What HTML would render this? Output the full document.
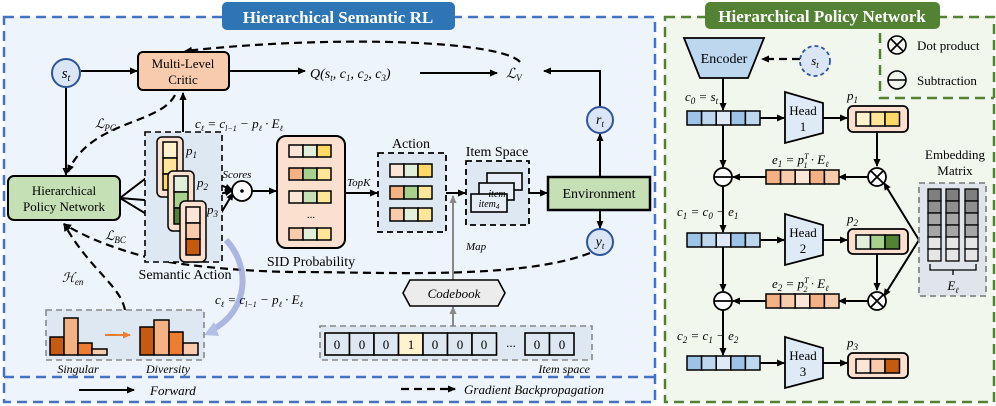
<!DOCTYPE html>
<html><head><meta charset="utf-8"><style>body{margin:0;background:#fff}svg{display:block}text{font-family:"Liberation Serif","DejaVu Serif",serif}</style></head><body>
<svg width="996" height="406" viewBox="0 0 996 406" xmlns="http://www.w3.org/2000/svg">
<defs>
<marker id="a" markerWidth="8" markerHeight="8" refX="7" refY="4" orient="auto" markerUnits="userSpaceOnUse"><path d="M0,0.5 L8,4 L0,7.5 z" fill="#000"/></marker>
<marker id="g" markerWidth="8" markerHeight="8" refX="7" refY="4" orient="auto" markerUnits="userSpaceOnUse"><path d="M0,0.5 L8,4 L0,7.5 z" fill="#888"/></marker>
<marker id="o" markerWidth="8" markerHeight="8" refX="7" refY="4" orient="auto" markerUnits="userSpaceOnUse"><path d="M0,0.5 L8,4 L0,7.5 z" fill="#ed7d31"/></marker>
</defs>
<rect x="4" y="17" width="651" height="385" fill="#eef4fb" stroke="#4472c4" stroke-width="2.5" stroke-dasharray="10,6"/>
<line x1="4" y1="377" x2="655" y2="377" stroke="#4472c4" stroke-width="2.5" stroke-dasharray="10,6"/>
<rect x="222" y="2" width="233" height="28" rx="5" fill="#2e75b6"/>
<text x="338" y="23" font-size="17" font-weight="bold" fill="#fff" text-anchor="middle">Hierarchical Semantic RL</text>
<rect x="665" y="17" width="329" height="385" fill="#f2f7ee" stroke="#548235" stroke-width="2.5" stroke-dasharray="10,6"/>
<path d="M880,17 V98 H994" fill="none" stroke="#548235" stroke-width="2.5" stroke-dasharray="10,6"/>
<rect x="705" y="2" width="235" height="27" rx="5" fill="#548235"/>
<text x="822" y="22" font-size="17" font-weight="bold" fill="#fff" text-anchor="middle">Hierarchical Policy Network</text>

<g stroke="#000" stroke-width="2" fill="none">
<line x1="81" y1="71" x2="137" y2="71" marker-end="url(#a)"/>
<line x1="229" y1="71" x2="305" y2="71" marker-end="url(#a)"/>
<line x1="420" y1="73" x2="497" y2="73" marker-end="url(#a)"/>
<path d="M600,107 V71 H544" marker-end="url(#a)"/>
<line x1="66" y1="87" x2="66" y2="175" marker-end="url(#a)"/>
<path d="M183,133 V93" marker-end="url(#a)"/>
<line x1="120" y1="198" x2="158" y2="169" marker-end="url(#a)"/>
<line x1="120" y1="198" x2="169" y2="202" marker-end="url(#a)"/>
<line x1="120" y1="198" x2="171" y2="229" marker-end="url(#a)"/>
<line x1="182" y1="168" x2="232" y2="190" marker-end="url(#a)"/>
<line x1="194" y1="200" x2="232" y2="191" marker-end="url(#a)"/>
<line x1="205" y1="240" x2="233" y2="193" marker-end="url(#a)"/>
<line x1="252" y1="191" x2="276" y2="191" marker-end="url(#a)"/>
<line x1="345" y1="193" x2="377" y2="193" marker-end="url(#a)"/>
<line x1="446" y1="193" x2="465" y2="193" marker-end="url(#a)"/>
<line x1="529" y1="193" x2="547" y2="193" marker-end="url(#a)"/>
<line x1="600" y1="177" x2="600" y2="134" marker-end="url(#a)"/>
<line x1="600" y1="210" x2="600" y2="228" marker-end="url(#a)"/>
</g>
<g stroke="#000" stroke-width="2.2" fill="none" stroke-dasharray="8,5">
<path d="M520,62 C500,40 330,35 185,51" marker-end="url(#a)"/>
<path d="M175,95 C160,125 90,120 68,172" marker-end="url(#a)"/>
<path d="M590,253 C520,280 380,272 300,272 C240,272 170,264 150,258 C120,250 90,240 64,224" marker-end="url(#a)"/>
<path d="M125,310 C120,285 90,270 64,224" marker-end="url(#a)"/>
<line x1="800" y1="59" x2="762" y2="59" marker-end="url(#a)"/>
</g>
<line x1="453" y1="280" x2="453" y2="196" stroke="#888" stroke-width="2" marker-end="url(#g)"/>
<line x1="453" y1="326" x2="453" y2="307" stroke="#888" stroke-width="2" marker-end="url(#g)"/>
<path d="M226,240 C250,265 250,310 212,330" stroke="#9aa8dc" stroke-width="6" fill="none" opacity="0.8"/>
<path d="M204,335 L214,322 L219,336 z" fill="#b3bfe6"/>

<circle cx="66" cy="73" r="14" fill="#dae6f5" stroke="#2f5597" stroke-width="2"/>
<text x="66" y="78" font-size="15" font-style="italic" text-anchor="middle">s<tspan font-size="10" dy="3">t</tspan></text>
<rect x="138" y="52" width="91" height="38" rx="5" fill="#f8cbad" stroke="#000" stroke-width="2"/>
<text x="183" y="68" font-size="13" text-anchor="middle">Multi-Level</text>
<text x="183" y="84" font-size="13" text-anchor="middle">Critic</text>
<text x="310" y="78" font-size="14" font-style="italic">Q(s<tspan font-size="9" dy="3">t</tspan><tspan dy="-3">, c</tspan><tspan font-size="9" dy="3">1</tspan><tspan dy="-3">, c</tspan><tspan font-size="9" dy="3">2</tspan><tspan dy="-3">, c</tspan><tspan font-size="9" dy="3">3</tspan><tspan dy="-3">)</tspan></text>
<text x="506" y="78" font-size="14" font-style="italic">ℒ<tspan font-size="9" dy="3">V</tspan></text>
<text x="95" y="128" font-size="13" font-style="italic">ℒ<tspan font-size="9" dy="3">PG</tspan></text>
<text x="195" y="128" font-size="13" font-style="italic">c<tspan font-size="8" dy="3">ℓ</tspan><tspan dy="-3"> = c</tspan><tspan font-size="8" dy="3">l−1</tspan><tspan dy="-3"> − p</tspan><tspan font-size="8" dy="3">ℓ</tspan><tspan dy="-3"> · E</tspan><tspan font-size="8" dy="3">ℓ</tspan></text>
<rect x="8" y="176" width="112" height="44" rx="6" fill="#c5e0b4" stroke="#000" stroke-width="2"/>
<text x="64" y="195" font-size="13" text-anchor="middle">Hierarchical</text>
<text x="64" y="211" font-size="13" text-anchor="middle">Policy Network</text>
<text x="105" y="240" font-size="13" font-style="italic">ℒ<tspan font-size="9" dy="3">BC</tspan></text>
<text x="62" y="282" font-size="13" font-style="italic">ℋ<tspan font-size="9" dy="3">en</tspan></text>

<rect x="145" y="132" width="77" height="130" fill="#dde8f3" stroke="#000" stroke-width="1.6" stroke-dasharray="6,4"/>
<text x="185" y="279" font-size="14" text-anchor="middle">Semantic Action</text>
<g stroke="#000" stroke-width="1.5">
<rect x="157" y="137" width="26" height="60" rx="5" fill="#fbe0d0"/>
<rect x="163" y="142" width="14" height="16" fill="#fff2cc"/><rect x="163" y="158" width="14" height="16" fill="#ffe699"/><rect x="163" y="174" width="14" height="16" fill="#ffd966"/>
<rect x="168" y="171" width="26" height="60" rx="5" fill="#fbe0d0"/>
<rect x="174" y="176" width="14" height="16" fill="#e2efda"/><rect x="174" y="192" width="14" height="16" fill="#a9d18e"/><rect x="174" y="208" width="14" height="16" fill="#548235"/>
<rect x="180" y="201" width="26" height="61" rx="5" fill="#fbe0d0"/>
<rect x="186" y="207" width="14" height="16" fill="#fbe5d6"/><rect x="186" y="223" width="14" height="16" fill="#f8cbad"/><rect x="186" y="239" width="14" height="16" fill="#c55a11"/>
</g>
<text x="186" y="155" font-size="13" font-style="italic">p<tspan font-size="9" dy="3">1</tspan></text>
<text x="197" y="187" font-size="13" font-style="italic">p<tspan font-size="9" dy="3">2</tspan></text>
<text x="207" y="214" font-size="13" font-style="italic">p<tspan font-size="9" dy="3">3</tspan></text>
<text x="237" y="178" font-size="11" font-style="italic" text-anchor="middle">Scores</text>
<circle cx="242" cy="191" r="10" fill="#fff" stroke="#000" stroke-width="1.8"/>
<circle cx="242" cy="191" r="1.8" fill="#000"/>

<rect x="277" y="136" width="68" height="112" rx="9" fill="#fbe0d0" stroke="#000" stroke-width="2"/>
<g stroke="#000" stroke-width="1.5">
<rect x="289" y="145" width="14" height="12" fill="#fbe5d6"/><rect x="303" y="145" width="14" height="12" fill="#e2efda"/><rect x="317" y="145" width="14" height="12" fill="#ffd966"/>
<rect x="289" y="168" width="14" height="12" fill="#f4b183"/><rect x="303" y="168" width="14" height="12" fill="#a9d18e"/><rect x="317" y="168" width="14" height="12" fill="#ffe699"/>
<rect x="289" y="191" width="14" height="12" fill="#fbe5d6"/><rect x="303" y="191" width="14" height="12" fill="#c5e0b4"/><rect x="317" y="191" width="14" height="12" fill="#ffe699"/>
<rect x="289" y="228" width="14" height="12" fill="#f8cbad"/><rect x="303" y="228" width="14" height="12" fill="#e2efda"/><rect x="317" y="228" width="14" height="12" fill="#ffe699"/>
</g>
<text x="311" y="218" font-size="11" text-anchor="middle">...</text>
<text x="311" y="266" font-size="14" text-anchor="middle">SID Probability</text>
<text x="347" y="186" font-size="11" font-style="italic">TopK</text>

<text x="411" y="148" font-size="14" text-anchor="middle">Action</text>
<rect x="378" y="153" width="68" height="79" fill="#dde8f3" stroke="#000" stroke-width="1.8" stroke-dasharray="6,4"/>
<g stroke="#000" stroke-width="1.5">
<rect x="390" y="164" width="14" height="13" fill="#fbe5d6"/><rect x="404" y="164" width="14" height="13" fill="#e2efda"/><rect x="418" y="164" width="14" height="13" fill="#ffd966"/>
<rect x="390" y="186" width="14" height="13" fill="#f4b183"/><rect x="404" y="186" width="14" height="13" fill="#a9d18e"/><rect x="418" y="186" width="14" height="13" fill="#ffe699"/>
<rect x="390" y="208" width="14" height="13" fill="#f8cbad"/><rect x="404" y="208" width="14" height="13" fill="#e2efda"/><rect x="418" y="208" width="14" height="13" fill="#ffe699"/>
</g>
<text x="497" y="156" font-size="14" text-anchor="middle">Item Space</text>
<rect x="466" y="161" width="63" height="64" fill="#dde8f3" stroke="#000" stroke-width="1.8" stroke-dasharray="6,4"/>
<g stroke="#000" stroke-width="1.6" fill="#e8eef7">
<rect x="487" y="173" width="35" height="17"/><rect x="479" y="183" width="35" height="17"/><rect x="471" y="194" width="36" height="18"/>
</g>
<text x="497" y="197" font-size="10" font-style="italic" text-anchor="middle">item</text>
<text x="489" y="207" font-size="10" font-style="italic" text-anchor="middle">item<tspan font-size="7" dy="2">4</tspan></text>
<text x="466" y="250" font-size="11" font-style="italic">Map</text>
<rect x="548" y="177" width="102" height="33" fill="#c5e0b4" stroke="#000" stroke-width="2.5"/>
<text x="599" y="198" font-size="14" text-anchor="middle">Environment</text>
<circle cx="600" cy="120" r="13" fill="#dae6f5" stroke="#2f5597" stroke-width="2"/>
<text x="600" y="124" font-size="14" font-style="italic" text-anchor="middle">r<tspan font-size="9" dy="3">t</tspan></text>
<circle cx="600" cy="242" r="13" fill="#dae6f5" stroke="#2f5597" stroke-width="2"/>
<text x="600" y="246" font-size="14" font-style="italic" text-anchor="middle">y<tspan font-size="9" dy="3">t</tspan></text>

<text x="215" y="304" font-size="13" font-style="italic">c<tspan font-size="8" dy="3">ℓ</tspan><tspan dy="-3"> = c</tspan><tspan font-size="8" dy="3">l−1</tspan><tspan dy="-3"> − p</tspan><tspan font-size="8" dy="3">ℓ</tspan><tspan dy="-3"> · E</tspan><tspan font-size="8" dy="3">ℓ</tspan></text>
<rect x="46" y="310" width="158" height="50" fill="#dde8f3" stroke="#888" stroke-width="1.6" stroke-dasharray="6,4"/>
<g stroke="#000" stroke-width="1.5">
<rect x="50" y="337" width="14" height="18" fill="#c55a11"/><rect x="64" y="318" width="14" height="37" fill="#f4b183"/><rect x="78" y="343" width="14" height="12" fill="#ed7d31"/><rect x="92" y="349" width="15" height="6" fill="#f8cbad"/>
<rect x="140" y="327" width="14" height="28" fill="#c55a11"/><rect x="154" y="320" width="15" height="35" fill="#f4b183"/><rect x="169" y="332" width="14" height="23" fill="#ed7d31"/><rect x="183" y="343" width="15" height="12" fill="#f8cbad"/>
</g>
<line x1="105" y1="335" x2="130" y2="335" stroke="#ed7d31" stroke-width="2" marker-end="url(#o)"/>
<text x="78" y="373" font-size="12" font-style="italic" text-anchor="middle">Singular</text>
<text x="168" y="373" font-size="12" font-style="italic" text-anchor="middle">Diversity</text>
<path d="M410,280 H498 L505,293 L498,306 H410 L403,293 z" fill="#ececec" stroke="#000" stroke-width="1.6"/>
<text x="454" y="298" font-size="13" font-style="italic" text-anchor="middle">Codebook</text>
<rect x="320" y="326" width="272" height="34" fill="#dde8f3" stroke="#888" stroke-width="1.6" stroke-dasharray="6,4"/>
<g stroke="#000" stroke-width="1.6" fill="#dde8f3">
<rect x="325" y="333" width="24.5" height="22"/><rect x="349.5" y="333" width="24.5" height="22"/><rect x="374" y="333" width="24.5" height="22"/><rect x="398.5" y="333" width="24.5" height="22" fill="#fff2cc"/><rect x="423" y="333" width="24.5" height="22"/><rect x="447.5" y="333" width="24.5" height="22"/><rect x="472" y="333" width="24.5" height="22"/>
<rect x="525" y="333" width="24.5" height="22"/><rect x="549.5" y="333" width="24.5" height="22"/>
</g>
<g font-size="13" text-anchor="middle">
<text x="337" y="349">0</text><text x="362" y="349">0</text><text x="386" y="349">0</text><text x="411" y="349">1</text><text x="435" y="349">0</text><text x="460" y="349">0</text><text x="484" y="349">0</text><text x="511" y="347">...</text><text x="537" y="349">0</text><text x="562" y="349">0</text>
</g>
<text x="590" y="373" font-size="12" font-style="italic" text-anchor="end">Item space</text>
<line x1="79" y1="390" x2="134" y2="390" stroke="#000" stroke-width="2" marker-end="url(#a)"/>
<text x="150" y="395" font-size="13" font-style="italic">Forward</text>
<line x1="401" y1="389" x2="455" y2="389" stroke="#000" stroke-width="2.2" stroke-dasharray="8,5" marker-end="url(#a)"/>
<text x="464" y="394" font-size="13" font-style="italic">Gradient Backpropagation</text>

<path d="M684,38 H764 L748,78 H700 z" fill="#bdd7ee" stroke="#000" stroke-width="1.8"/>
<text x="724" y="63" font-size="14" text-anchor="middle">Encoder</text>
<circle cx="815" cy="61" r="15" fill="#dae6f5" stroke="#2f5597" stroke-width="1.8" stroke-dasharray="4,3"/>
<text x="815" y="65" font-size="13" font-style="italic" text-anchor="middle">s<tspan font-size="9" dy="3">t</tspan></text>
<circle cx="897" cy="45" r="9" fill="none" stroke="#000" stroke-width="1.6"/><path d="M891,39 L903,51 M903,39 L891,51" stroke="#000" stroke-width="1.6"/>
<text x="917" y="50" font-size="13">Dot product</text>
<circle cx="897" cy="80" r="9" fill="none" stroke="#000" stroke-width="1.6"/><line x1="888" y1="80" x2="906" y2="80" stroke="#000" stroke-width="1.6"/>
<text x="917" y="85" font-size="13">Subtraction</text>

<g stroke="#000" stroke-width="2" fill="none">
<line x1="723" y1="78" x2="723" y2="110" marker-end="url(#a)"/>
<line x1="723" y1="125" x2="723" y2="167" marker-end="url(#a)"/>
<line x1="723" y1="186" x2="723" y2="232" marker-end="url(#a)"/>
<line x1="723" y1="247" x2="723" y2="291" marker-end="url(#a)"/>
<line x1="723" y1="310" x2="723" y2="355" marker-end="url(#a)"/>
<line x1="760" y1="118" x2="784" y2="118" marker-end="url(#a)"/>
<line x1="823" y1="118" x2="847" y2="118" marker-end="url(#a)"/>
<line x1="760" y1="240" x2="784" y2="240" marker-end="url(#a)"/>
<line x1="823" y1="240" x2="847" y2="240" marker-end="url(#a)"/>
<line x1="760" y1="363" x2="784" y2="363" marker-end="url(#a)"/>
<line x1="823" y1="363" x2="847" y2="363" marker-end="url(#a)"/>
<line x1="877" y1="132" x2="877" y2="166" marker-end="url(#a)"/>
<line x1="877" y1="254" x2="877" y2="290" marker-end="url(#a)"/>
<line x1="868" y1="177" x2="839" y2="177" marker-end="url(#a)"/>
<line x1="766" y1="177" x2="733" y2="177" marker-end="url(#a)"/>
<line x1="868" y1="301" x2="839" y2="301" marker-end="url(#a)"/>
<line x1="766" y1="301" x2="733" y2="301" marker-end="url(#a)"/>
<path d="M919,240 L884,183" marker-end="url(#a)"/>
<path d="M919,240 L884,296" marker-end="url(#a)"/>
</g>
<g stroke="#000" stroke-width="1.5">
<rect x="687" y="111" width="14.6" height="14" fill="#9dc3e6"/><rect x="701.6" y="111" width="14.6" height="14" fill="#bdd7ee"/><rect x="716.2" y="111" width="14.6" height="14" fill="#deebf7"/><rect x="730.8" y="111" width="14.6" height="14" fill="#9dc3e6"/><rect x="745.4" y="111" width="14.6" height="14" fill="#bdd7ee"/>
<rect x="687" y="233" width="14.6" height="14" fill="#9dc3e6"/><rect x="701.6" y="233" width="14.6" height="14" fill="#bdd7ee"/><rect x="716.2" y="233" width="14.6" height="14" fill="#deebf7"/><rect x="730.8" y="233" width="14.6" height="14" fill="#9dc3e6"/><rect x="745.4" y="233" width="14.6" height="14" fill="#bdd7ee"/>
<rect x="687" y="356" width="14.6" height="14" fill="#9dc3e6"/><rect x="701.6" y="356" width="14.6" height="14" fill="#bdd7ee"/><rect x="716.2" y="356" width="14.6" height="14" fill="#deebf7"/><rect x="730.8" y="356" width="14.6" height="14" fill="#9dc3e6"/><rect x="745.4" y="356" width="14.6" height="14" fill="#bdd7ee"/>
<rect x="766" y="170" width="14.6" height="14" fill="#f4b183"/><rect x="780.6" y="170" width="14.6" height="14" fill="#f8cbad"/><rect x="795.2" y="170" width="14.6" height="14" fill="#fbe5d6"/><rect x="809.8" y="170" width="14.6" height="14" fill="#f4b183"/><rect x="824.4" y="170" width="14.6" height="14" fill="#f8cbad"/>
<rect x="766" y="294" width="14.6" height="14" fill="#f4b183"/><rect x="780.6" y="294" width="14.6" height="14" fill="#f8cbad"/><rect x="795.2" y="294" width="14.6" height="14" fill="#fbe5d6"/><rect x="809.8" y="294" width="14.6" height="14" fill="#f4b183"/><rect x="824.4" y="294" width="14.6" height="14" fill="#f8cbad"/>
</g>
<g stroke="#000" stroke-width="1.8" fill="#deebf7">
<path d="M785,92 L823,103 V133 L785,143 z"/><path d="M785,214 L823,225 V255 L785,265 z"/><path d="M785,337 L823,348 V378 L785,388 z"/>
</g>
<g font-size="13" text-anchor="middle">
<text x="803" y="115">Head</text><text x="803" y="131">1</text>
<text x="803" y="237">Head</text><text x="803" y="253">2</text>
<text x="803" y="360">Head</text><text x="803" y="376">3</text>
</g>
<g stroke="#000" stroke-width="1.8">
<rect x="848" y="106" width="60" height="26" rx="5" fill="#fbe0d0"/>
<rect x="848" y="229" width="60" height="25" rx="5" fill="#fbe0d0"/>
<rect x="848" y="353" width="60" height="25" rx="5" fill="#fbe0d0"/>
</g>
<g stroke="#000" stroke-width="1.5">
<rect x="856" y="112" width="14.5" height="14" fill="#fff2cc"/><rect x="870.5" y="112" width="14.5" height="14" fill="#ffe699"/><rect x="885" y="112" width="14.5" height="14" fill="#ffd966"/>
<rect x="856" y="235" width="14.5" height="14" fill="#e2efda"/><rect x="870.5" y="235" width="14.5" height="14" fill="#a9d18e"/><rect x="885" y="235" width="14.5" height="14" fill="#548235"/>
<rect x="856" y="359" width="14.5" height="14" fill="#fbe5d6"/><rect x="870.5" y="359" width="14.5" height="14" fill="#f8cbad"/><rect x="885" y="359" width="14.5" height="14" fill="#c55a11"/>
</g>
<g font-size="13" font-style="italic">
<text x="847" y="100">p<tspan font-size="9" dy="3">1</tspan></text>
<text x="847" y="223">p<tspan font-size="9" dy="3">2</tspan></text>
<text x="847" y="347">p<tspan font-size="9" dy="3">3</tspan></text>
<text x="685" y="101">c<tspan font-size="9" dy="3">0</tspan><tspan dy="-3">  =  s</tspan><tspan font-size="9" dy="3">t</tspan></text>
<text x="677" y="216">c<tspan font-size="9" dy="3">1</tspan><tspan dy="-3"> = c</tspan><tspan font-size="9" dy="3">0</tspan><tspan dy="-3"> − e</tspan><tspan font-size="9" dy="3">1</tspan></text>
<text x="677" y="340">c<tspan font-size="9" dy="3">2</tspan><tspan dy="-3"> = c</tspan><tspan font-size="9" dy="3">1</tspan><tspan dy="-3"> − e</tspan><tspan font-size="9" dy="3">2</tspan></text>
<text x="772" y="164">e<tspan font-size="9" dy="3">1</tspan><tspan dy="-3"> = p</tspan><tspan font-size="8" dy="-5">T</tspan><tspan font-size="8" dx="-5" dy="9">1</tspan><tspan dy="-4"> · E</tspan><tspan font-size="8" dy="3">ℓ</tspan></text>
<text x="772" y="288">e<tspan font-size="9" dy="3">2</tspan><tspan dy="-3"> = p</tspan><tspan font-size="8" dy="-5">T</tspan><tspan font-size="8" dx="-5" dy="9">2</tspan><tspan dy="-4"> · E</tspan><tspan font-size="8" dy="3">ℓ</tspan></text>
</g>
<g stroke="#000" stroke-width="1.8" fill="#fff">
<circle cx="877" cy="177" r="9"/><path d="M871,171 L883,183 M883,171 L871,183"/>
<circle cx="877" cy="301" r="9"/><path d="M871,295 L883,307 M883,295 L871,307"/>
<circle cx="723" cy="177" r="9"/><line x1="714" y1="177" x2="732" y2="177"/>
<circle cx="723" cy="301" r="9"/><line x1="714" y1="301" x2="732" y2="301"/>
</g>
<text x="955" y="159" font-size="13" text-anchor="middle">Embedding</text>
<text x="955" y="175" font-size="13" text-anchor="middle">Matrix</text>
<rect x="919" y="183" width="67" height="113" fill="#dfe5ea" stroke="#888" stroke-width="1.8" stroke-dasharray="6,4"/>
<g stroke="#000" stroke-width="1.3">
<rect x="928" y="189" width="13" height="12" fill="#7f7f7f"/><rect x="928" y="201" width="13" height="12" fill="#8f8f8f"/><rect x="928" y="213" width="13" height="12" fill="#a6a6a6"/><rect x="928" y="225" width="13" height="12" fill="#a6a6a6"/><rect x="928" y="237" width="13" height="12" fill="#e7e6e6"/><rect x="928" y="249" width="13" height="12" fill="#e7e6e6"/>
<rect x="946" y="189" width="13" height="12" fill="#7f7f7f"/><rect x="946" y="201" width="13" height="12" fill="#8f8f8f"/><rect x="946" y="213" width="13" height="12" fill="#a6a6a6"/><rect x="946" y="225" width="13" height="12" fill="#a6a6a6"/><rect x="946" y="237" width="13" height="12" fill="#e7e6e6"/><rect x="946" y="249" width="13" height="12" fill="#e7e6e6"/>
<rect x="965" y="189" width="13" height="12" fill="#7f7f7f"/><rect x="965" y="201" width="13" height="12" fill="#8f8f8f"/><rect x="965" y="213" width="13" height="12" fill="#a6a6a6"/><rect x="965" y="225" width="13" height="12" fill="#a6a6a6"/><rect x="965" y="237" width="13" height="12" fill="#e7e6e6"/><rect x="965" y="249" width="13" height="12" fill="#e7e6e6"/>
</g>
<path d="M930,264 V270 H976 V264 M953,270 V275" stroke="#000" stroke-width="1.3" fill="none"/>
<text x="953" y="290" font-size="13" font-style="italic" text-anchor="middle">E<tspan font-size="8" dy="3">ℓ</tspan></text>
</svg>
</body></html>
